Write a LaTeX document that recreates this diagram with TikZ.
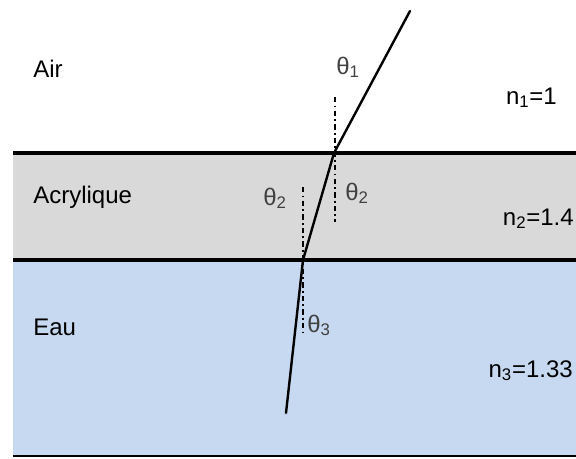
\documentclass[tikz,border=0pt]{standalone}
\usepackage{fontspec}
\setmainfont{Liberation Sans}
\usepackage{xcolor}
\usepackage{tikz}
\usetikzlibrary{calc, positioning}

\definecolor{acrylique}{RGB}{217,217,217}
\definecolor{eau}{RGB}{198,217,240}

\begin{document}
\begin{tikzpicture}[x=0.75pt, y=-0.75pt,
    interface/.style={line width=2.6pt},
    rayon/.style={line width=1.8pt, line cap=round},
    normale/.style={line width=1.3pt, dash pattern=on 4pt off 2.4pt on 1.4pt off 2.4pt},
    milieu/.style={anchor=base west, inner sep=0pt, font=\fontsize{18}{22}\selectfont},
    indice/.style={anchor=base east, inner sep=0pt, font=\fontsize{18}{22}\selectfont},
    angle/.style={anchor=base west, inner sep=0pt, text=black!75, font=\fontsize{18}{22}\selectfont}]

    \useasboundingbox (0,0) rectangle (576,458);

    % =================================================================
    % 1. LES MILIEUX (ACRYLIQUE, EAU)
    % =================================================================
    \fill[acrylique] (13,153) rectangle (576,260);
    \fill[eau] (13,260) rectangle (576,456);
    \draw[interface] (13,153) -- (576,153);
    \draw[interface] (13,260) -- (576,260);
    \draw[line width=1.8pt] (13,456) -- (576,456);

    % =================================================================
    % 2. LES NORMALES AUX POINTS D'INCIDENCE
    % =================================================================
    \coordinate (S) at (410,11);
    \coordinate (I) at (334,153);
    \coordinate (J) at (303,260);
    \coordinate (F) at (286,413);
    \coordinate (N1) at (335,97);
    \coordinate (N2) at (335,222);
    \coordinate (M1) at (303,187);
    \coordinate (M2) at (303,333);
    \draw[normale] (N1) -- (N2);
    \draw[normale] (M1) -- (M2);

    % =================================================================
    % 3. LE RAYON LUMINEUX
    % =================================================================
    \draw[rayon] (S) -- (I) -- (J) -- (F);

    % =================================================================
    % 4. LES NOMS ET LES INDICES
    % =================================================================
    \node[milieu] (air) at (33,77) {Air};
    \node[milieu] (acry) at (33,203) {Acrylique};
    \node[milieu] (eau) at (33,335) {Eau};
    \node[indice] (n1) at (557,104) {n\textsubscript{1}=1};
    \node[indice] (n2) at (574,225) {n\textsubscript{2}=1.4};
    \node[indice] (n3) at (573,377) {n\textsubscript{3}=1.33};

    % Les angles
    \node[angle] (t1) at (336,74) {θ\textsubscript{1}};
    \node[angle] (t2g) at (263,205) {θ\textsubscript{2}};
    \node[angle] (t2d) at (345,200) {θ\textsubscript{2}};
    \node[angle] (t3) at (307,332) {θ\textsubscript{3}};

\end{tikzpicture}
\end{document}
